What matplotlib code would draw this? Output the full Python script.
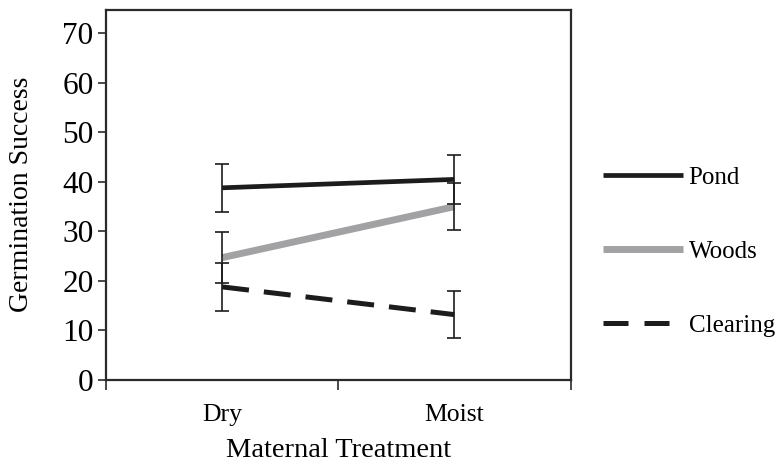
import matplotlib
matplotlib.use("Agg")
import matplotlib.pyplot as plt
from matplotlib.lines import Line2D

categories = ["Dry", "Moist"]
series_names = ["Pond", "Woods", "Clearing"]
pond = [38.8, 40.5]
pond_err = [4.8, 4.9]
woods = [24.7, 35.0]
woods_err = [5.1, 4.8]
clearing = [18.8, 13.2]
clearing_err = [4.9, 4.7]
yticks = [0, 10, 20, 30, 40, 50, 60, 70]

plt.rcParams['font.family'] = ['Liberation Serif', 'DejaVu Serif']

fig = plt.figure(figsize=(7.76, 4.72), dpi=100)
ax = fig.add_axes([106/776, (472-380)/472, (570.5-106)/776, (380-9.5)/472])

x = list(range(len(categories)))
frame_col = '#2a2a2a'

styles = [
    dict(color='#1c1c1c', lw=3.4, ls='-'),
    dict(color='#a2a2a4', lw=5.0, ls='-'),
    dict(color='#1c1c1c', lw=3.6, ls=(0, (5.4, 3.0))),
]
data = [(pond, pond_err), (woods, woods_err), (clearing, clearing_err)]

for (vals, errs), st in zip(data, styles):
    ax.plot(x, vals, color=st['color'], lw=st['lw'], linestyle=st['ls'],
            solid_capstyle='butt', dash_capstyle='butt', zorder=2)
for (vals, errs) in data:
    ax.errorbar(x, vals, yerr=errs, fmt='none', ecolor='#1c1c1c',
                elinewidth=1.2, capsize=4.8, capthick=1.2, zorder=3)

ax.set_xlim(-0.5, 1.5)
ax.set_ylim(0, 74.8)
ax.set_yticks(yticks)
ax.set_yticklabels([str(v) for v in yticks], fontsize=22.5)
ax.set_xticks(x)
ax.set_xticklabels(categories, fontsize=18.5)
ax.tick_params(axis='x', which='major', length=0, pad=17)
ax.set_xticks([-0.5, 0.5, 1.5], minor=True)
ax.tick_params(axis='x', which='minor', length=7, width=1.2, direction='out', color=frame_col)
ax.tick_params(axis='y', which='major', length=6, width=1.2, direction='out', color=frame_col, pad=3)

for sp in ax.spines.values():
    sp.set_linewidth(1.6)
    sp.set_color(frame_col)

ax.set_ylabel("Germination Success", fontsize=20, labelpad=20)
ax.set_xlabel("Maternal Treatment", fontsize=20.5, labelpad=9)

handles = [Line2D([0], [0], color=st['color'], lw=st['lw'], linestyle=st['ls'],
                  solid_capstyle='butt', dash_capstyle='butt') for st in styles]
handles[2] = Line2D([0], [0], color='#1c1c1c', lw=3.6, linestyle=(0, (5.0, 3.2)),
                    dash_capstyle='butt')
fig.legend(handles, series_names, loc='center left',
           bbox_to_anchor=(603/776, (472-251.5)/472), frameon=False,
           fontsize=18, handlelength=3.2, handletextpad=0.22,
           labelspacing=2.07, borderpad=0, borderaxespad=0)

fig.savefig("out.png", dpi=100)
